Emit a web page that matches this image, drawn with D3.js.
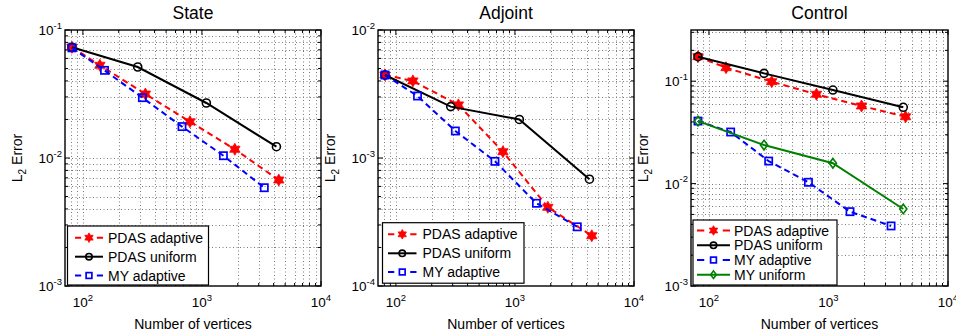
<!DOCTYPE html>
<html><head><meta charset="utf-8">
<script src="https://cdn.jsdelivr.net/npm/d3@7"></script>
<style>
body{margin:0;background:#fff;}
svg{display:block;font-family:"Liberation Sans",Arial,Helvetica,sans-serif;}
</style></head>
<body><svg id="c" width="956" height="332"></svg>
<script>
// ---- data ----
const titles = ["State", "Adjoint", "Control"];
const seriesNames = ["PDAS adaptive", "PDAS uniform", "MY adaptive", "MY uniform"];
const xTickLabels = ["2", "3", "4"];
const yTickLabelsState = ["-1", "-2", "-3"];
const yTickLabelsAdjoint = ["-2", "-3", "-4"];
const yTickLabelsControl = ["-1", "-2", "-3"];

const verticesPDASadaptive = [81, 139, 335, 793, 1890, 4420];
const verticesUniform = [81, 289, 1089, 4225];
const verticesMYadaptive = [81, 152, 316, 680, 1515, 3340];

const statePDASadaptive = [0.0733, 0.053, 0.0316, 0.0192, 0.0117, 0.00673];
const statePDASuniform = [0.0733, 0.0514, 0.0269, 0.01225];
const stateMYadaptive = [0.0725, 0.0484, 0.0296, 0.0176, 0.01042, 0.00586];

const adjointPDASadaptive = [0.00445, 0.0040, 0.0026, 0.00112, 0.000412, 0.000247];
const adjointPDASuniform = [0.00445, 0.00252, 0.0020, 0.000683];
const adjointMYadaptive = [0.00445, 0.00305, 0.001626, 0.000942, 0.000443, 0.00029];

const controlPDASadaptive = [0.1735, 0.1355, 0.0989, 0.0745, 0.0573, 0.045];
const controlPDASuniform = [0.1735, 0.1193, 0.082, 0.0556];
const controlMYadaptive = [0.0408, 0.0319, 0.0166, 0.0103, 0.00532, 0.00386];
const controlMYuniform = [0.0408, 0.0238, 0.0158, 0.00565];

// ---- styles ----
const styles = [
  {color:"#ff0000", dash:"6,4", marker:"star"},
  {color:"#000000", dash:null, marker:"circle"},
  {color:"#0000ff", dash:"6,4", marker:"square"},
  {color:"#008000", dash:null, marker:"diamond"}
];

const panels = [
  {title:titles[0], left:65, top:30, w:256, h:256, ydom:[1e-3,1e-1], ylabs:yTickLabelsState, ydec:[-1,-2,-3],
   series:[[verticesPDASadaptive,statePDASadaptive],[verticesUniform,statePDASuniform],[verticesMYadaptive,stateMYadaptive]],
   leg:{dx:2.5, y:226, w:141, h:59, rows:[237.7,256.7,275.5], s0:10, s1:38, tx:43}},
  {title:titles[1], left:378, top:30, w:256, h:256, ydom:[1e-4,1e-2], ylabs:yTickLabelsAdjoint, ydec:[-2,-3,-4],
   series:[[verticesPDASadaptive,adjointPDASadaptive],[verticesUniform,adjointPDASuniform],[verticesMYadaptive,adjointMYadaptive]],
   leg:{dx:4.5, y:222.7, w:141.5, h:60.5, rows:[234.3,253.3,272], s0:10, s1:38.5, tx:44.5}},
  {title:titles[2], left:691, top:30, w:257, h:256, ydom:[1e-3,Math.pow(10,-0.5)], ylabs:yTickLabelsControl, ydec:[-1,-2,-3],
   series:[[verticesPDASadaptive,controlPDASadaptive],[verticesUniform,controlPDASuniform],[verticesMYadaptive,controlMYadaptive],[verticesUniform,controlMYuniform]],
   leg:{dx:2, y:220, w:144, h:65, rows:[230.5,245.3,260,274.7], s0:6, s1:39, tx:43}}
];

const svg = d3.select("#c");
const xdom = [Math.pow(10,1.85), 1e4];

function starPath(ro){
  const ri = ro/Math.sqrt(3); const pts=[];
  for(let i=0;i<12;i++){const a=-Math.PI/2+i*Math.PI/6; const r=i%2?ri:ro; pts.push([r*Math.cos(a), r*Math.sin(a)]);}
  return "M"+pts.map(p=>p[0].toFixed(2)+","+p[1].toFixed(2)).join("L")+"Z";
}
function drawMarker(g, type, color, x, y, s){
  s = s||1;
  if(type==="star"){
    g.append("path").attr("d",starPath(6*s)).attr("transform",`translate(${x},${y})`)
      .attr("fill",color).attr("stroke",color).attr("stroke-width",0.8);
  } else if(type==="circle"){
    g.append("circle").attr("cx",x).attr("cy",y).attr("r",4*s).attr("fill","none").attr("stroke",color).attr("stroke-width",1.6);
  } else if(type==="square"){
    const h=3.6*s;
    g.append("rect").attr("x",x-h).attr("y",y-h).attr("width",2*h).attr("height",2*h).attr("fill","none").attr("stroke",color).attr("stroke-width",1.7);
  } else if(type==="diamond"){
    const hw=3.6*s, hh=4.8*s;
    g.append("path").attr("d",`M${x},${y-hh}L${x+hw},${y}L${x},${y+hh}L${x-hw},${y}Z`).attr("fill","none").attr("stroke",color).attr("stroke-width",1.6);
  }
}

panels.forEach((p,pi)=>{
  const x = d3.scaleLog().domain(xdom).range([p.left, p.left+p.w]);
  const y = d3.scaleLog().domain(p.ydom).range([p.top+p.h, p.top]);
  const g = svg.append("g");
  const L=p.left, R=p.left+p.w, T=p.top, B=p.top+p.h;

  // grid (minor + major)
  const xt=[], yt=[];
  for(let e=1;e<=4;e++) for(let m=1;m<=9;m++){const v=m*Math.pow(10,e); if(v>=xdom[0]*0.9999 && v<=xdom[1]*1.0001) xt.push({v,major:m===1});}
  for(let e=-5;e<=0;e++) for(let m=1;m<=9;m++){const v=m*Math.pow(10,e); if(v>=p.ydom[0]*0.9999 && v<=p.ydom[1]*1.0001) yt.push({v,major:m===1});}
  xt.forEach(t=>{
    const xx=Math.round(x(t.v))+0.5;
    if(xx>L+1 && xx<R-1) g.append("line").attr("x1",xx).attr("x2",xx).attr("y1",T).attr("y2",B)
      .attr("stroke","#7a7a7a").attr("stroke-width",1).attr("stroke-dasharray","1,2.5");
  });
  yt.forEach(t=>{
    const yy=Math.round(y(t.v))+0.5;
    if(yy>T+1 && yy<B-1) g.append("line").attr("x1",L).attr("x2",R).attr("y1",yy).attr("y2",yy)
      .attr("stroke","#7a7a7a").attr("stroke-width",1).attr("stroke-dasharray","1,2.5");
  });
  // ticks inside on all sides
  xt.forEach(t=>{
    const xx=x(t.v), len=t.major?5:3;
    g.append("line").attr("x1",xx).attr("x2",xx).attr("y1",B).attr("y2",B-len).attr("stroke","#000");
    g.append("line").attr("x1",xx).attr("x2",xx).attr("y1",T).attr("y2",T+len).attr("stroke","#000");
  });
  yt.forEach(t=>{
    const yy=y(t.v), len=t.major?5:3;
    g.append("line").attr("x1",L).attr("x2",L+len).attr("y1",yy).attr("y2",yy).attr("stroke","#000");
    g.append("line").attr("x1",R).attr("x2",R-len).attr("y1",yy).attr("y2",yy).attr("stroke","#000");
  });

  // series
  const line = d3.line().x(d=>x(d[0])).y(d=>y(d[1]));
  p.series.forEach((s,si)=>{
    const st=styles[si];
    const pts=s[0].map((v,i)=>[v,s[1][i]]);
    g.append("path").attr("d",line(pts)).attr("fill","none").attr("stroke",st.color).attr("stroke-width",2)
      .attr("stroke-dasharray",st.dash);
    pts.forEach(d=>drawMarker(g, st.marker, st.color, x(d[0]), y(d[1]), 1));
  });

  // box
  g.append("rect").attr("x",L).attr("y",T).attr("width",p.w).attr("height",p.h).attr("fill","none").attr("stroke","#000").attr("stroke-width",1.4);

  // x tick labels
  [100,1000,10000].forEach((v,i)=>{
    const t=g.append("text").attr("x",x(v)).attr("y",307).attr("text-anchor","middle").attr("font-size",13.5).attr("fill","#000");
    t.append("tspan").text("10");
    t.append("tspan").attr("font-size",9.5).attr("dy",-6.5).text(xTickLabels[i]);
  });
  // y tick labels
  p.ydec.forEach((e,i)=>{
    const t=g.append("text").attr("x",L-3).attr("y",y(Math.pow(10,e))+5).attr("text-anchor","end").attr("font-size",13.5).attr("fill","#000");
    t.append("tspan").text("10");
    t.append("tspan").attr("font-size",9.5).attr("dy",-6.5).text(p.ylabs[i]);
  });
  // axis labels
  g.append("text").attr("x",(L+R)/2).attr("y",329).attr("text-anchor","middle").attr("font-size",14).text("Number of vertices");
  const yl=g.append("text").attr("transform",`translate(${L-43},${(T+B)/2}) rotate(-90)`).attr("text-anchor","middle").attr("font-size",14);
  yl.append("tspan").text("L");
  yl.append("tspan").attr("font-size",10).attr("dy",4).text("2");
  yl.append("tspan").attr("dy",-4).text(" Error");
  // title
  g.append("text").attr("x",(L+R)/2).attr("y",19).attr("text-anchor","middle").attr("font-size",17.5).text(p.title);

  // legend
  const lg=p.leg, lx=L+lg.dx;
  g.append("rect").attr("x",lx).attr("y",lg.y).attr("width",lg.w).attr("height",lg.h).attr("fill","#fff").attr("stroke","#000").attr("stroke-width",1.2);
  p.series.forEach((s,si)=>{
    const st=styles[si], ry=lg.rows[si];
    const a=L+lg.s0, b=L+lg.s1, len=b-a;
    g.append("line").attr("x1",a).attr("x2",b).attr("y1",ry).attr("y2",ry).attr("stroke",st.color).attr("stroke-width",2)
      .attr("stroke-dasharray", st.dash ? `${len*0.22},${len*0.56},${len*0.22}` : null);
    drawMarker(g, st.marker, st.color, (a+b)/2, ry, 0.8);
    g.append("text").attr("x",L+lg.tx).attr("y",ry+5).attr("font-size",14).text(seriesNames[si]);
  });
});
</script></body></html>
